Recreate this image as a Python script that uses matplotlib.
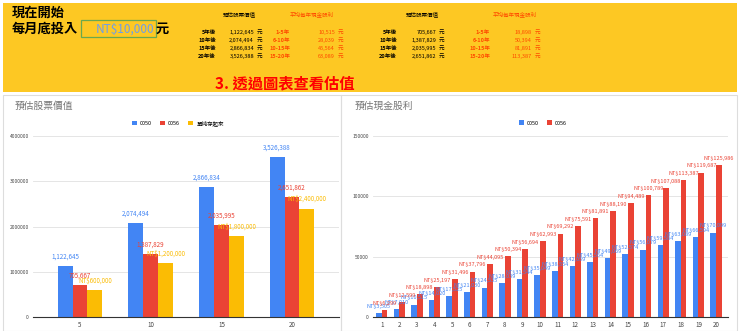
import matplotlib.pyplot as plt
from matplotlib.patches import Rectangle

plt.rcParams["font.family"] = ["Noto Sans CJK TC", "DejaVu Sans"]

# ---- 資料 ----
years = [5, 10, 15, 20]
value_0050 = [1122645, 2074494, 2866834, 3526388]
value_0056 = [705667, 1387829, 2035995, 2651862]
value_save = [600000, 1200000, 1800000, 2400000]

div_years = list(range(1, 21))
div_0050 = [3505, 7010, 10515, 14020, 17525, 21030, 24535, 28039, 31544, 35049,
            38554, 42059, 45564, 49069, 52574, 56079, 59584, 63089, 66594, 70099]
div_0056 = [6299, 12599, 18898, 25197, 31496, 37796, 44095, 50394, 56694, 62993,
            69292, 75591, 81891, 88190, 94489, 100789, 107088, 113387, 119687, 125986]

row_labels = ["5年後", "10年後", "15年後", "20年後"]
period_labels = ["1-5年", "6-10年", "10-15年", "15-20年"]
avg_div_0050 = [10515, 28039, 45564, 63089]
avg_div_0056 = [18898, 50394, 81891, 113387]

BLUE = "#4285F4"
RED = "#EA4335"
YELLOW = "#FBBC04"
HEAD = "#FDC823"
ORANGE = "#FF4A00"

W, H = 740, 331
fig = plt.figure(figsize=(W / 100, H / 100), dpi=100)
fig.patch.set_facecolor("white")


def fx(px):
    return px / W


def fy(py):
    return 1 - py / H


# ---- 上方黃色區塊 ----
fig.patches.append(Rectangle((fx(3), fy(92)), fx(734), 89 / H, transform=fig.transFigure,
                             facecolor=HEAD, edgecolor="none", zorder=0))
fig.text(fx(12), fy(13), "現在開始", fontsize=9.5, fontweight="bold", va="center")
fig.text(fx(12), fy(29), "每月底投入", fontsize=9.5, fontweight="bold", va="center")
fig.patches.append(Rectangle((fx(81), fy(37)), fx(75), 17 / H, transform=fig.transFigure,
                             facecolor="none", edgecolor="#6aa84f", lw=0.9, zorder=2))
fig.text(fx(154), fy(29), "NT$10,000", fontsize=8.5, color="#6d9eeb", ha="right", va="center")
fig.text(fx(156), fy(29), "元", fontsize=9.5, fontweight="bold", va="center")
fig.text(fx(285), fy(83), "3. 透過圖表查看估值", fontsize=11, fontweight="bold",
         color="#FF0000", ha="center", va="center")


def draw_table(x_row, x_val, x_per, x_div, x_head1, x_head2, values, divs):
    fig.text(fx(x_head1), fy(14), "預估股票價值", fontsize=4, ha="center", va="center")
    fig.text(fx(x_head2), fy(14), "平均每年現金股利", fontsize=4, ha="center", va="center",
             color=ORANGE)
    for i in range(4):
        yy = fy(32 + i * 8.3)
        fig.text(fx(x_row), yy, row_labels[i], fontsize=4, fontweight="bold", ha="right", va="center")
        fig.text(fx(x_val), yy, f"{values[i]:,}", fontsize=4, ha="right", va="center")
        fig.text(fx(x_val + 3), yy, "元", fontsize=4, ha="left", va="center")
        fig.text(fx(x_per), yy, period_labels[i], fontsize=4, fontweight="bold", ha="right",
                 va="center", color=ORANGE)
        fig.text(fx(x_div), yy, f"{divs[i]:,}", fontsize=4, ha="right", va="center", color=ORANGE)
        fig.text(fx(x_div + 3), yy, "元", fontsize=4, ha="left", va="center", color=ORANGE)


draw_table(216, 254, 290, 335, 239, 312, value_0050, avg_div_0050)
draw_table(397, 436, 490, 532, 422, 515, value_0056, avg_div_0056)

# 圖表外框
for x0, x1 in [(3, 341), (341, 737)]:
    fig.patches.append(Rectangle((fx(x0), fy(331)), fx(x1 - x0), 236 / H, transform=fig.transFigure,
                                 facecolor="none", edgecolor="#dddddd", lw=0.8, zorder=0))

# ---- 左圖：預估股票價值 ----
ax1 = fig.add_axes([fx(33), fy(317.3), fx(339 - 33), (317.3 - 136) / H])
pos = range(len(years))
bw = 0.212
b1 = ax1.bar([p - bw for p in pos], value_0050, bw, color=BLUE, label="0050")
b2 = ax1.bar(list(pos), value_0056, bw, color=RED, label="0056")
b3 = ax1.bar([p + bw for p in pos], value_save, bw, color=YELLOW, label="單純存起來")
ax1.bar_label(b1, labels=[f"{v:,}" for v in value_0050], padding=4, fontsize=4.5, color=BLUE)
ax1.bar_label(b2, labels=[f"{v:,}" for v in value_0056], padding=4, fontsize=4.5, color=RED)
ax1.bar_label(b3, labels=[f"NT${v:,}" for v in value_save], padding=4, fontsize=4.5, color=YELLOW)
ax1.set_xlim(-0.665, 3.665)
ax1.set_ylim(0, 4000000)
ax1.set_yticks([0, 1000000, 2000000, 3000000, 4000000])
ax1.set_yticklabels(["0", "1000000", "2000000", "3000000", "4000000"])
ax1.set_xticks(list(pos))
ax1.set_xticklabels([str(y) for y in years])
fig.text(fx(15), fy(106), "預估股票價值", fontsize=7, color="#757575", va="center")
ax1.legend(loc="center", bbox_to_anchor=(fx(178), fy(123)), bbox_transform=fig.transFigure,
           ncol=3, frameon=False, fontsize=4, handlelength=0.8, handleheight=0.8,
           columnspacing=1.5, handletextpad=0.6)

# ---- 右圖：預估現金股利 ----
ax2 = fig.add_axes([fx(373), fy(317.3), fx(728 - 373), (317.3 - 136) / H])
bw2 = 0.32
c1 = ax2.bar([d - bw2 / 2 for d in div_years], div_0050, bw2, color=BLUE, label="0050")
c2 = ax2.bar([d + bw2 / 2 for d in div_years], div_0056, bw2, color=RED, label="0056")
ax2.bar_label(c1, labels=[f"NT${v:,}" for v in div_0050], padding=3, fontsize=4, color=BLUE)
ax2.bar_label(c2, labels=[f"NT${v:,}" for v in div_0056], padding=3, fontsize=4, color=RED)
ax2.set_xlim(0.506, 20.68)
ax2.set_ylim(0, 150000)
ax2.set_yticks([0, 50000, 100000, 150000])
ax2.set_yticklabels(["0", "50000", "100000", "150000"])
ax2.set_xticks(div_years)
fig.text(fx(355), fy(106), "預估現金股利", fontsize=7, color="#757575", va="center")
ax2.legend(loc="center", bbox_to_anchor=(fx(543), fy(123)), bbox_transform=fig.transFigure,
           ncol=2, frameon=False, fontsize=4, handlelength=0.8, handleheight=0.8,
           columnspacing=1.5, handletextpad=0.6)

for ax in (ax1, ax2):
    for s in ("top", "right", "left"):
        ax.spines[s].set_visible(False)
    ax.spines["bottom"].set_color("#333333")
    ax.spines["bottom"].set_linewidth(0.8)
    ax.grid(axis="y", color="#e0e0e0", lw=0.6)
    ax.set_axisbelow(True)
    ax.tick_params(axis="y", length=0, labelsize=3.5, labelcolor="#444444", pad=3)
    ax.tick_params(axis="x", length=0, labelsize=4.5, labelcolor="#444444", pad=3)
    ax.set_facecolor("none")

fig.savefig("out.png", dpi=100)
